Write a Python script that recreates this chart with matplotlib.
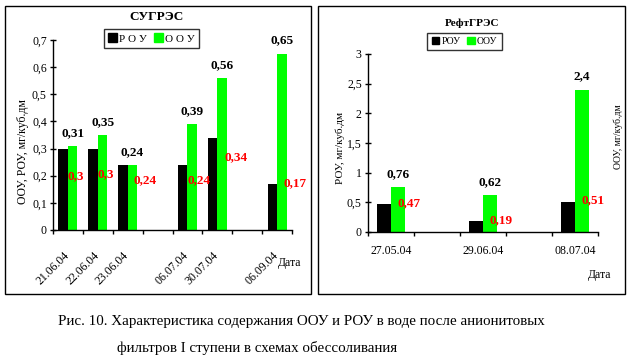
import matplotlib
matplotlib.use("Agg")
import matplotlib.pyplot as plt
from matplotlib.patches import Rectangle, Patch
import matplotlib.transforms as mtransforms
import numpy as np

plt.rcParams['font.family'] = ['Liberation Serif', 'DejaVu Serif']

# ---------------- data ----------------
dates_left = ['21.06.04', '22.06.04', '23.06.04', '', '06.07.04', '30.07.04', '', '06.09.04']
rou_left = [0.30, 0.30, 0.24, np.nan, 0.24, 0.34, np.nan, 0.17]
oou_left = [0.31, 0.35, 0.24, np.nan, 0.39, 0.56, np.nan, 0.65]

dates_right = ['27.05.04', '', '29.06.04', '', '08.07.04']
rou_right = [0.47, np.nan, 0.19, np.nan, 0.51]
oou_right = [0.76, np.nan, 0.62, np.nan, 2.4]

title_left = 'СУГРЭС'
title_right = 'РефтГРЭС'
legend_left = ['Р О У', 'О О У']
legend_right = ['РОУ', 'ООУ']
ylabel_left = 'ООУ, РОУ, мг/куб.дм'
ylabel_right = 'РОУ, мг/куб.дм'
ylabel_right2 = 'ООУ, мг/куб.дм'
xlabel = 'Дата'
caption1 = 'Рис. 10. Характеристика содержания ООУ и РОУ в воде после анионитовых'
caption2 = 'фильтров I ступени в схемах обессоливания'

# label placement styles (offsets of red labels)
red_dx_left = [0.0, 0.0, 0.2, 0, 0.0, 0.23, 0, 0.23]
red_y_left = [0.20, 0.205, 0.185, 0, 0.185, 0.268, 0, 0.171]
red_y_right = [0.49, 0, 0.20, 0, 0.54]

W, H = 630, 357
fig = plt.figure(figsize=(W / 100, H / 100), dpi=100)
fig.patch.set_facecolor('white')

def px_axes(x0, x1, ytop, ybot):
    return fig.add_axes([x0 / W, 1 - ybot / H, (x1 - x0) / W, (ybot - ytop) / H])

def fig_xy(x, y):
    return x / W, 1 - y / H

# panel borders
for (x0, y0, x1, y1) in [(5, 6, 311, 294), (318, 6, 625, 294)]:
    fig.patches.append(Rectangle(fig_xy(x0, y1), (x1 - x0) / W, (y1 - y0) / H,
                                 transform=fig.transFigure, fill=False,
                                 edgecolor='black', lw=1.0))

BLACK = '#000000'
GREEN = '#00FF00'
RED = '#FF0000'

def style_axes(ax, n):
    for s in ['top', 'right']:
        ax.spines[s].set_visible(False)
    for s in ['left', 'bottom']:
        ax.spines[s].set_linewidth(1.0)
    ax.set_xlim(-0.5, n - 0.5)
    ax.set_xticks(np.arange(n + 1) - 0.5)
    ax.set_xticklabels([])
    ax.tick_params(axis='x', which='major', direction='out', length=3, width=1)
    ax.tick_params(axis='y', which='major', direction='inout', length=5, width=1,
                   labelsize=8.5, pad=2)
    ax.set_facecolor('none')

def comma(v):
    return ('%g' % v).replace('.', ',')

# ---------------- left chart ----------------
axL = px_axes(53, 292, 40, 230)
nL = len(dates_left)
xL = np.arange(nL)
wL = 0.32
axL.bar(xL - wL / 2, rou_left, width=wL, color=BLACK)
axL.bar(xL + wL / 2, oou_left, width=wL, color=GREEN)
style_axes(axL, nL)
axL.set_ylim(0, 0.7)
yt = np.arange(0, 0.71, 0.1)
axL.set_yticks(yt)
axL.set_yticklabels([comma(round(v, 1)) for v in yt])
axL.set_xticks(xL, minor=True)
axL.set_xticklabels(dates_left, minor=True, rotation=45, ha='right',
                    rotation_mode='anchor', fontsize=8.5)
axL.tick_params(axis='x', which='minor', length=0, pad=14)
for i in range(nL):
    if np.isnan(oou_left[i]):
        continue
    axL.annotate(comma(oou_left[i]), (xL[i] + wL / 2, oou_left[i]),
                 xytext=(0, 5), textcoords='offset points', ha='center', va='bottom',
                 fontsize=9.5, fontweight='bold', color=BLACK, clip_on=False)
    axL.text(xL[i] + red_dx_left[i], red_y_left[i], comma(rou_left[i]),
             ha='left', va='center', fontsize=9.5, fontweight='bold', color=RED)
off = mtransforms.ScaledTranslation(-5 / 100, 0, fig.dpi_scale_trans)
for lab in axL.get_xticklabels(minor=True):
    lab.set_transform(lab.get_transform() + off)

fig.text(*fig_xy(157, 17), title_left, ha='center', va='center', fontsize=9.5, fontweight='bold')
fig.text(*fig_xy(23, 152), ylabel_left, ha='center', va='center', rotation=90, fontsize=8.5)
fig.text(*fig_xy(290, 263), xlabel, ha='center', va='center', fontsize=8.5)

handles = [Patch(facecolor=BLACK, edgecolor=BLACK), Patch(facecolor=GREEN, edgecolor=GREEN)]
legL = fig.legend(handles, legend_left, loc='center', bbox_to_anchor=fig_xy(151.5, 38.5),
                  ncol=2, frameon=True, fancybox=False, edgecolor='black', fontsize=8,
                  handlelength=0.8, handleheight=0.8, handletextpad=0.2, columnspacing=0.6,
                  borderpad=0.4)
legL.get_frame().set_linewidth(1.0)

# ---------------- right chart ----------------
axR = px_axes(368, 598, 54, 232)
nR = len(dates_right)
xR = np.arange(nR)
wR = 0.30
axR.bar(xR - wR / 2, rou_right, width=wR, color=BLACK)
axR.bar(xR + wR / 2, oou_right, width=wR, color=GREEN)
style_axes(axR, nR)
axR.set_ylim(0, 3)
ytr = np.arange(0, 3.01, 0.5)
axR.set_yticks(ytr)
axR.set_yticklabels([comma(v) for v in ytr])
axR.set_xticks(xR, minor=True)
axR.set_xticklabels(dates_right, minor=True, fontsize=8.5)
axR.tick_params(axis='x', which='minor', length=0, pad=9)
for i in range(nR):
    if np.isnan(oou_right[i]):
        continue
    axR.annotate(comma(oou_right[i]), (xR[i] + wR / 2, oou_right[i]),
                 xytext=(0, 5), textcoords='offset points', ha='center', va='bottom',
                 fontsize=9.5, fontweight='bold', color=BLACK, clip_on=False)
    axR.text(xR[i] + 0.15, red_y_right[i], comma(rou_right[i]),
             ha='left', va='center', fontsize=9.5, fontweight='bold', color=RED)

fig.text(*fig_xy(472, 23), title_right, ha='center', va='center', fontsize=8, fontweight='bold')
fig.text(*fig_xy(340, 148), ylabel_right, ha='center', va='center', rotation=90, fontsize=8)
fig.text(*fig_xy(618, 137), ylabel_right2, ha='center', va='center', rotation=90, fontsize=7)
fig.text(*fig_xy(600, 275), xlabel, ha='center', va='center', fontsize=8.5)

legR = fig.legend(handles, legend_right, loc='center', bbox_to_anchor=fig_xy(464.5, 41.5),
                  ncol=2, frameon=True, fancybox=False, edgecolor='black', fontsize=7,
                  handlelength=0.8, handleheight=0.8, handletextpad=0.25, columnspacing=0.6,
                  borderpad=0.45)
legR.get_frame().set_linewidth(1.0)

# ---------------- caption ----------------
fig.text(*fig_xy(301, 322), caption1, ha='center', va='center', fontsize=10.8)
fig.text(*fig_xy(117, 348), caption2, ha='left', va='center', fontsize=10.8)

fig.savefig('out.png', dpi=100, facecolor='white')
